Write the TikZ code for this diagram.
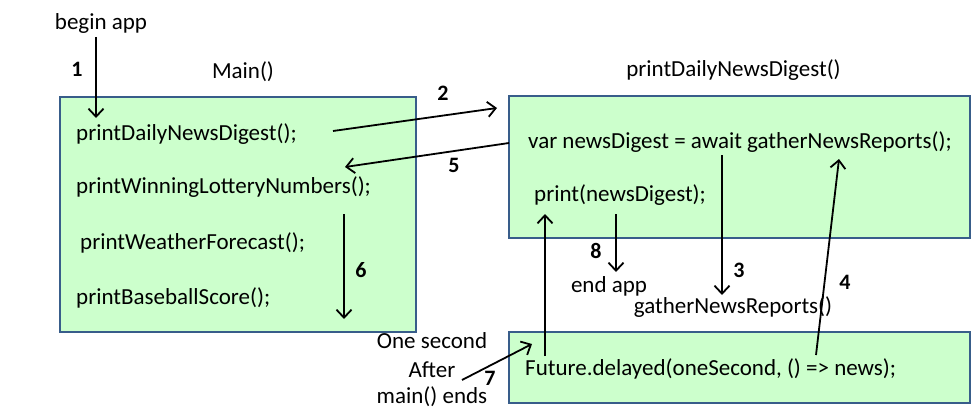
\documentclass[tikz,border=0pt]{standalone}
\usepackage{fontspec}
\setmainfont{Carlito}
\usetikzlibrary{arrows.meta}
\definecolor{boxfill}{HTML}{CCFFCC}
\definecolor{boxline}{HTML}{385D8A}
\tikzset{
  box/.style={draw=boxline, line width=1.1pt, fill=boxfill},
  txt/.style={inner sep=0pt, anchor=base west, font=\fontsize{23}{26}\selectfont},
  ctxt/.style={inner sep=0pt, anchor=base, font=\fontsize{23}{26}\selectfont},
  num/.style={inner sep=0pt, anchor=base, font=\fontsize{22}{26}\selectfont\bfseries},
  arr/.style={line width=1.8pt, -{Straight Barb[length=8pt,width=15pt,line width=1.8pt]}}
}
\begin{document}
\begin{tikzpicture}[x=1pt,y=-1pt]
\useasboundingbox (0,0) rectangle (972,420);
% boxes
\draw[box] (60,97) rectangle (416,332);
\draw[box] (509,96) rectangle (970,238);
\draw[box] (509,332) rectangle (970,403);
% texts
\node[ctxt] (begin) at (101,29.5) {begin app};
\node[num] (n1) at (77,77) {1};
\node[ctxt] (maint) at (243,78) {Main()};
\node[num] (n2) at (443,100) {2};
\node[num] (n5) at (454,172) {5};
\node[txt] (m1) at (76,140) {printDailyNewsDigest();};
\node[txt] (m2) at (76,193) {printWinningLotteryNumbers();};
\node[txt] (m3) at (80,249) {printWeatherForecast();};
\node[txt] (m4) at (76,304) {printBaseballScore();};
\node[num] (n6) at (361,277) {6};
\node[ctxt] (pt) at (733.5,77) {printDailyNewsDigest()};
\node[txt] (p1) at (528,148) {var newsDigest = await gatherNewsReports();};
\node[txt] (p2) at (534,201) {print(newsDigest);};
\node[num] (n8) at (596,258) {8};
\node[ctxt] (endapp) at (609,292) {end app};
\node[num] (n3) at (739,277) {3};
\node[num] (n4) at (845,289) {4};
\node[ctxt] (gnr) at (733,313) {gatherNewsReports()};
\node[ctxt] (os1) at (432,348) {One second};
\node[ctxt] (os2) at (432,377) {After};
\node[ctxt] (os3) at (432,403) {main() ends};
\node[num] (n7) at (490,385) {7};
\node[txt] (fut) at (525,375) {Future.delayed(oneSecond, () => news);};
% arrow coordinates
\coordinate (a1s) at (96,37);   \coordinate (a1e) at (96,118);
\coordinate (a2s) at (333,131); \coordinate (a2e) at (497,108);
\coordinate (a5s) at (509,143); \coordinate (a5e) at (345,167);
\coordinate (a6s) at (344,214); \coordinate (a6e) at (344,319);
\coordinate (a3s) at (722,155); \coordinate (a3e) at (722,295);
\coordinate (a8s) at (616,214); \coordinate (a8e) at (616,272);
\coordinate (aus) at (545,356); \coordinate (aue) at (545,214);
\coordinate (a4s) at (816,355); \coordinate (a4e) at (839,159);
\coordinate (a7s) at (462,380); \coordinate (a7e) at (532,344);
\draw[arr] (a1s) -- (a1e);
\draw[arr] (a2s) -- (a2e);
\draw[arr] (a5s) -- (a5e);
\draw[arr] (a6s) -- (a6e);
\draw[arr] (a3s) -- (a3e);
\draw[arr] (a8s) -- (a8e);
\draw[arr] (aus) -- (aue);
\draw[arr] (a4s) -- (a4e);
\draw[arr] (a7s) -- (a7e);
\end{tikzpicture}
\end{document}
